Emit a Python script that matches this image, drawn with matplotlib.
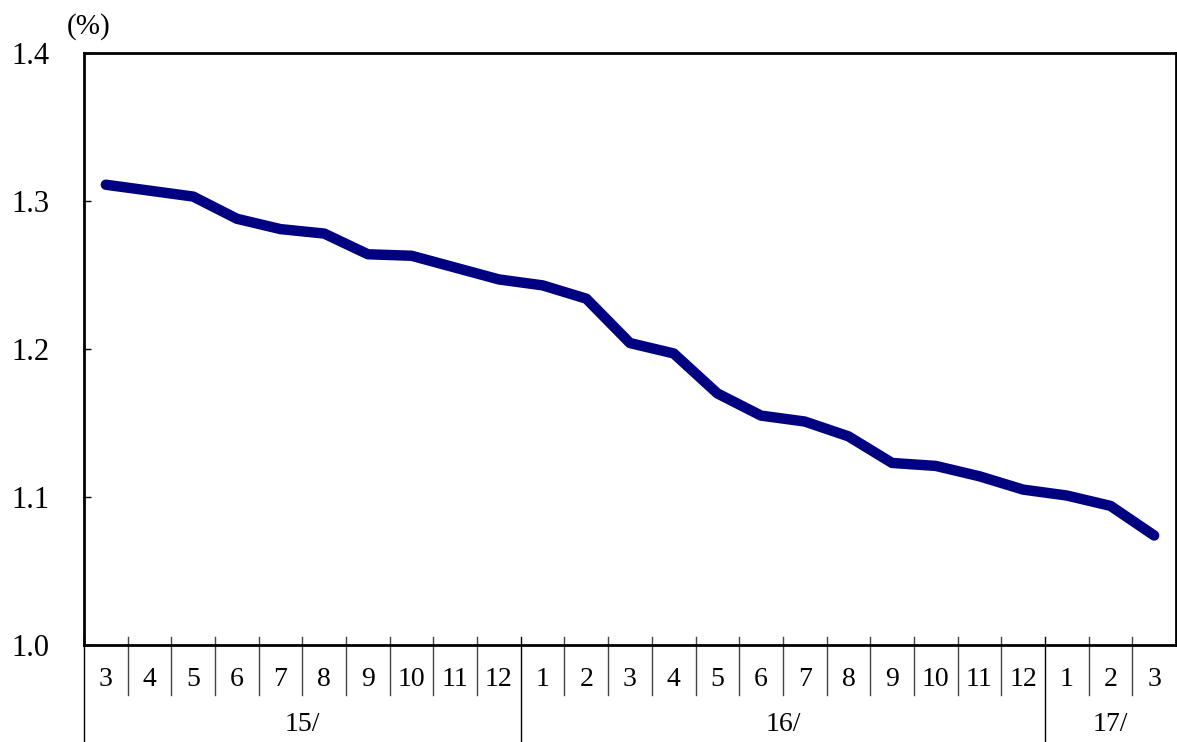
import numpy as np
import matplotlib.pyplot as plt

# category labels (months) and year groups
months = ['3', '4', '5', '6', '7', '8', '9', '10', '11', '12',
          '1', '2', '3', '4', '5', '6', '7', '8', '9', '10', '11', '12',
          '1', '2', '3']
years = ['15/', '16/', '17/']
year_start = [0, 10, 22]   # index of first month of each year
values = [1.311, 1.307, 1.303, 1.288, 1.281, 1.278, 1.264, 1.263, 1.255, 1.247,
          1.243, 1.234, 1.204, 1.197, 1.170, 1.155, 1.151, 1.141, 1.123, 1.121,
          1.114, 1.105, 1.101, 1.094, 1.074]

plt.rcParams['font.family'] = ['Liberation Serif', 'DejaVu Serif']

fig = plt.figure(figsize=(11.77, 7.42), dpi=100)
ax = fig.add_axes([84 / 1177, 1 - 645 / 742, 1092 / 1177, 592 / 742])

x = np.arange(len(values))
ax.plot(x, values, color='#000080', linewidth=7.5, solid_capstyle='round',
        solid_joinstyle='round')

ax.set_xlim(-0.5, len(values) - 0.5)
ax.set_ylim(1.0, 1.4)
ax.set_yticks([1.0, 1.1, 1.2, 1.3, 1.4])
ax.set_yticklabels(['1.0', '1.1', '1.2', '1.3', '1.4'])
ax.tick_params(axis='y', direction='in', length=5, width=1, pad=25, labelsize=22)
ax.set_xticks([])
for s in ax.spines.values():
    s.set_linewidth(2)

# category dividers and labels under the axis
trans = ax.get_xaxis_transform()
for i in range(len(values)):
    if i in year_start:
        ax.plot([i - 0.5, i - 0.5], [0.0135, -0.17], color='black', lw=1,
                transform=trans, clip_on=False)
    else:
        ax.plot([i - 0.5, i - 0.5], [0.0135, -0.085], color='#444444', lw=1,
                transform=trans, clip_on=False)
    ax.text(i, -0.059, months[i], ha='center', va='center', fontsize=20,
            transform=trans)

ends = year_start[1:] + [len(values)]
for name, a, b in zip(years, year_start, ends):
    ax.text((a + b - 1) / 2, -0.135, name, ha='center', va='center',
            fontsize=20, transform=trans)

ax.text(0.004, 1.044, '(%)', ha='center', va='center', fontsize=21,
        transform=ax.transAxes)

fig.savefig('out.png', dpi=100)
